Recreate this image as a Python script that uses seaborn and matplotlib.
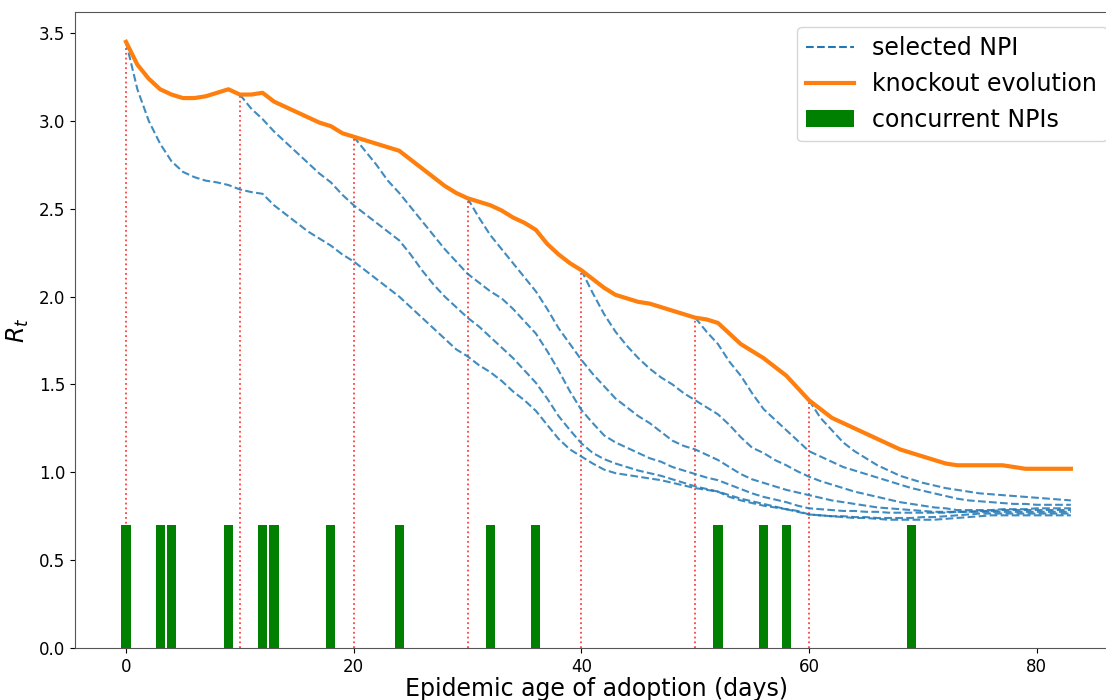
import matplotlib
matplotlib.use("Agg")
import matplotlib.pyplot as plt
from matplotlib.lines import Line2D
from matplotlib.patches import Patch
import numpy as np
import pandas as pd
import seaborn as sns

# Knockout evolution of R_t, one value per day of epidemic age (days 0..83)
knockout_rt = [
    3.45, 3.32, 3.24, 3.18, 3.15, 3.13, 3.13, 3.14, 3.16, 3.18,
    3.15, 3.15, 3.16, 3.11, 3.08, 3.05, 3.02, 2.99, 2.97, 2.93,
    2.91, 2.89, 2.87, 2.85, 2.83, 2.78, 2.73, 2.68, 2.63, 2.59,
    2.56, 2.54, 2.52, 2.49, 2.45, 2.42, 2.38, 2.30, 2.24, 2.19,
    2.15, 2.10, 2.05, 2.01, 1.99, 1.97, 1.96, 1.94, 1.92, 1.90,
    1.88, 1.87, 1.85, 1.79, 1.73, 1.69, 1.65, 1.60, 1.55, 1.48,
    1.41, 1.36, 1.31, 1.28, 1.25, 1.22, 1.19, 1.16, 1.13, 1.11,
    1.09, 1.07, 1.05, 1.04, 1.04, 1.04, 1.04, 1.04, 1.03, 1.02,
    1.02, 1.02, 1.02, 1.02,
]

# Days at which an NPI is selected and knocked out
selected_days = [0, 10, 20, 30, 40, 50, 60]

# R_t trajectories for each selected NPI, from its selection day to day 83
npi_day0 = [
    3.45, 3.18, 3.00, 2.87, 2.77, 2.71, 2.68, 2.66, 2.65, 2.635,
    2.61, 2.595, 2.585, 2.52, 2.47, 2.42, 2.37, 2.33, 2.29, 2.24,
    2.20, 2.15, 2.10, 2.05, 2.00, 1.94, 1.88, 1.82, 1.76, 1.70,
    1.66, 1.61, 1.57, 1.52, 1.46, 1.41, 1.35, 1.27, 1.19, 1.13,
    1.09, 1.05, 1.015, 0.995, 0.985, 0.975, 0.965, 0.955, 0.94, 0.925,
    0.91, 0.90, 0.89, 0.86, 0.84, 0.825, 0.81, 0.80, 0.79, 0.78,
    0.76, 0.755, 0.75, 0.745, 0.74, 0.74, 0.735, 0.73, 0.73, 0.73,
    0.73, 0.73, 0.735, 0.74, 0.745, 0.75, 0.755, 0.755, 0.755, 0.755,
    0.755, 0.755, 0.755, 0.755,
]
npi_day10 = [
    3.15, 3.07, 3.01, 2.94, 2.88, 2.82, 2.76, 2.70, 2.65, 2.58,
    2.52, 2.47, 2.42, 2.37, 2.32, 2.24, 2.15, 2.07, 2.00, 1.94,
    1.88, 1.83, 1.77, 1.71, 1.65, 1.58, 1.51, 1.42, 1.32, 1.24,
    1.165, 1.11, 1.075, 1.05, 1.03, 1.01, 0.995, 0.98, 0.96, 0.94,
    0.92, 0.905, 0.89, 0.87, 0.85, 0.835, 0.82, 0.805, 0.79, 0.775,
    0.76, 0.755, 0.75, 0.75, 0.745, 0.745, 0.74, 0.74, 0.74, 0.74,
    0.745, 0.745, 0.75, 0.755, 0.76, 0.765, 0.765, 0.765, 0.765, 0.765,
    0.765, 0.765, 0.765, 0.765,
]
npi_day20 = [
    2.91, 2.83, 2.75, 2.66, 2.59, 2.51, 2.43, 2.35, 2.27, 2.20,
    2.13, 2.08, 2.03, 1.99, 1.93, 1.86, 1.79, 1.69, 1.58, 1.46,
    1.355, 1.28, 1.21, 1.17, 1.14, 1.11, 1.08, 1.06, 1.03, 1.01,
    0.99, 0.97, 0.955, 0.93, 0.905, 0.88, 0.86, 0.845, 0.83, 0.81,
    0.795, 0.79, 0.785, 0.78, 0.78, 0.775, 0.775, 0.77, 0.77, 0.77,
    0.77, 0.77, 0.77, 0.775, 0.775, 0.775, 0.775, 0.775, 0.775, 0.775,
    0.775, 0.775, 0.775, 0.775,
]
npi_day30 = [
    2.56, 2.45, 2.35, 2.27, 2.19, 2.11, 2.03, 1.93, 1.82, 1.73,
    1.64, 1.56, 1.49, 1.42, 1.37, 1.32, 1.28, 1.23, 1.18, 1.15,
    1.13, 1.10, 1.07, 1.03, 0.99, 0.96, 0.94, 0.92, 0.90, 0.885,
    0.87, 0.855, 0.84, 0.83, 0.82, 0.81, 0.80, 0.795, 0.79, 0.785,
    0.78, 0.775, 0.775, 0.775, 0.775, 0.78, 0.78, 0.785, 0.785, 0.785,
    0.785, 0.785, 0.785, 0.785,
]
npi_day40 = [
    2.15, 2.02, 1.90, 1.80, 1.72, 1.65, 1.59, 1.54, 1.50, 1.45,
    1.41, 1.37, 1.33, 1.27, 1.20, 1.14, 1.11, 1.07, 1.04, 1.005,
    0.975, 0.95, 0.93, 0.91, 0.89, 0.875, 0.86, 0.845, 0.83, 0.82,
    0.81, 0.80, 0.795, 0.785, 0.785, 0.785, 0.785, 0.79, 0.79, 0.79,
    0.795, 0.795, 0.795, 0.795,
]
npi_day50 = [
    1.88, 1.80, 1.73, 1.63, 1.55, 1.45, 1.36, 1.30, 1.24, 1.18,
    1.12, 1.09, 1.06, 1.03, 1.01, 0.99, 0.97, 0.95, 0.93, 0.91,
    0.895, 0.88, 0.865, 0.85, 0.84, 0.835, 0.83, 0.825, 0.82, 0.82,
    0.815, 0.815, 0.815, 0.815,
]
npi_day60 = [
    1.41, 1.31, 1.24, 1.17, 1.12, 1.08, 1.04, 1.01, 0.98, 0.96,
    0.94, 0.925, 0.91, 0.90, 0.89, 0.88, 0.875, 0.87, 0.865, 0.86,
    0.855, 0.85, 0.845, 0.84,
]
npi_curves = [npi_day0, npi_day10, npi_day20, npi_day30,
              npi_day40, npi_day50, npi_day60]

# Adoption days of concurrent NPIs and the bar height used to mark them
concurrent_days = [0, 3, 4, 9, 12, 13, 18, 24, 32, 36, 52, 56, 58, 69]
concurrent_height = 0.7

days = np.arange(len(knockout_rt))

fig = plt.figure(figsize=(11.06, 7.0), dpi=100)
# axes run slightly past the right edge of the canvas
ax = fig.add_axes([0.0678, 0.0743, 0.955, 0.9086])

blue = "#1f77b4"
orange = "#ff7f0e"

# Concurrent NPIs as thin bars along the bottom
ax.bar(concurrent_days, [concurrent_height] * len(concurrent_days),
       width=0.8, color="green", zorder=2)

# Trajectories after each selected NPI
for start, curve in zip(selected_days, npi_curves):
    df = pd.DataFrame({"day": np.arange(start, start + len(curve)),
                       "rt": curve})
    sns.lineplot(data=df, x="day", y="rt", ax=ax, color=blue,
                 linestyle="--", linewidth=1.5, alpha=0.85, zorder=3)

# Knockout evolution
ko = pd.DataFrame({"day": days, "rt": knockout_rt})
sns.lineplot(data=ko, x="day", y="rt", ax=ax, color=orange,
             linewidth=3, zorder=4)

# Markers for the selection days
for start in selected_days:
    ax.vlines(start, 0, knockout_rt[start], colors="red",
              linestyles=":", linewidth=1.3, alpha=0.75, zorder=1)

ax.set_xlim(-4.48, 88.3)
ax.set_ylim(0, 3.62)
ax.set_xticks([0, 20, 40, 60, 80])
ax.set_yticks([0.0, 0.5, 1.0, 1.5, 2.0, 2.5, 3.0, 3.5])
ax.tick_params(labelsize=12)
ax.set_xlabel("Epidemic age of adoption (days)", fontsize=17, labelpad=0)
ax.xaxis.set_label_coords(0.494, -0.046, transform=ax.transAxes)
ax.xaxis.label.set_verticalalignment("top")
ax.set_ylabel("$R_t$", fontsize=17, labelpad=6)

for side in ax.spines:
    ax.spines[side].set_color("#555555")

handles = [
    Line2D([0], [0], color=blue, linestyle="--", linewidth=1.5),
    Line2D([0], [0], color=orange, linewidth=3),
    Patch(facecolor="green"),
]
labels = ["selected NPI", "knockout evolution", "concurrent NPIs"]
ax.legend(handles, labels, loc="upper right", fontsize=17,
          framealpha=0.8, bbox_to_anchor=(0.988, 0.995))

fig.savefig("out.png", dpi=100)
